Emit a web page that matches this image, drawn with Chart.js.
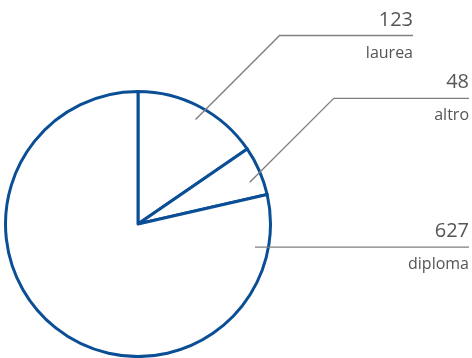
<!DOCTYPE html>
<html lang="it">
<head>
    <meta charset="UTF-8">
    <title>Titolo di studio</title>
    <style>
        body {
            margin: 0;
            padding: 0;
            background-color: white;
        }
        #wrap {
            width: 472px;
            height: 358px;
        }
    </style>
</head>
<body>
    <div id="wrap">
        <canvas id="pie"></canvas>
    </div>

    <script src="https://cdn.jsdelivr.net/npm/chart.js"></script>
    <script>
        const categories = ['laurea', 'altro', 'diploma'];
        const values = [123, 48, 627];

        // where each leader line starts inside its slice (0 = slice start, 1 = slice end)
        const anchorAt = [0.52, 0.65, 0.085];
        const elbowRise = [84, 84, 0];
        const lineEnd = [413, 469, 469];

        const calloutPlugin = {
            id: 'callouts',
            afterDatasetsDraw(chart) {
                const ctx = chart.ctx;
                const arcs = chart.getDatasetMeta(0).data;
                ctx.save();
                arcs.forEach((arc, i) => {
                    const p = arc.getProps(['x', 'y', 'startAngle', 'endAngle', 'outerRadius'], true);
                    const a = p.startAngle + (p.endAngle - p.startAngle) * anchorAt[i];
                    const r = p.outerRadius * 0.9;
                    const x0 = p.x + Math.cos(a) * r;
                    const y0 = p.y + Math.sin(a) * r;
                    const x1 = x0 + elbowRise[i];
                    const y1 = y0 - elbowRise[i];

                    ctx.strokeStyle = '#7f7f7f';
                    ctx.lineWidth = 1.4;
                    ctx.beginPath();
                    ctx.moveTo(x0, y0);
                    ctx.lineTo(x1, y1);
                    ctx.lineTo(lineEnd[i], y1);
                    ctx.stroke();

                    ctx.fillStyle = '#555555';
                    ctx.textAlign = 'right';
                    ctx.textBaseline = 'alphabetic';
                    ctx.font = '20px "Open Sans"';
                    ctx.fillText(String(chart.data.datasets[0].data[i]), lineEnd[i], y1 - 10);
                    ctx.font = '16px "Open Sans"';
                    ctx.fillText(chart.data.labels[i], lineEnd[i], y1 + 22);
                });
                ctx.restore();
            }
        };

        new Chart(document.getElementById('pie'), {
            type: 'pie',
            data: {
                labels: categories,
                datasets: [{
                    data: values,
                    backgroundColor: '#ffffff',
                    borderColor: '#0a4f95',
                    borderWidth: 3,
                    borderJoinStyle: 'round'
                }]
            },
            options: {
                responsive: true,
                maintainAspectRatio: false,
                animation: false,
                layout: {
                    padding: { left: 4, right: 200, top: 90, bottom: 0 }
                },
                plugins: {
                    legend: { display: false },
                    tooltip: { enabled: false }
                }
            },
            plugins: [calloutPlugin]
        });
    </script>
</body>
</html>
